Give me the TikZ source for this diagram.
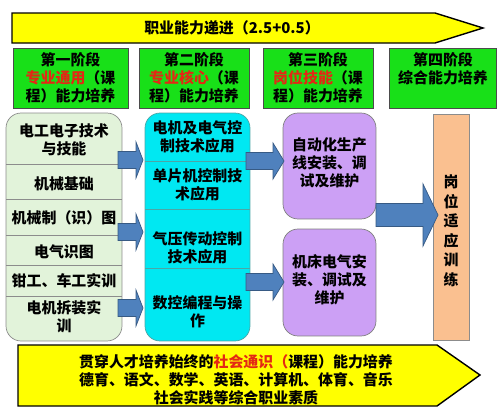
\documentclass[tikz,border=0pt]{standalone}
\usepackage{fontspec}
\setmainfont{Noto Sans CJK SC}
\usetikzlibrary{positioning}

\definecolor{bandyellow}{RGB}{255,255,0}
\definecolor{stagegreen}{RGB}{24,224,24}
\definecolor{basegreen}{RGB}{226,243,218}
\definecolor{corecyan}{RGB}{0,232,242}
\definecolor{jobpurple}{RGB}{204,160,245}
\definecolor{trainorange}{RGB}{250,192,144}
\definecolor{arrowblue}{RGB}{79,129,189}
\definecolor{hotred}{RGB}{228,40,20}

\newcommand{\hot}[1]{\textcolor{hotred}{#1}}
% block arrow: start x, head x, tip x, centre y, shaft half, head half
\newcommand{\barrow}[6]{\draw[blockarrow] (#1,#4-#5) -- (#2,#4-#5) -- (#2,#4-#6) -- (#3,#4) -- (#2,#4+#6) -- (#2,#4+#5) -- (#1,#4+#5) -- cycle;}

\begin{document}
\begin{tikzpicture}[x=0.02cm, y=-0.02cm,
    font=\fontsize{8.5}{10.2}\selectfont\bfseries,
    stage/.style={draw=black!70, fill=stagegreen, minimum height=1.2cm, inner sep=0pt, align=center},
    column/.style={rounded corners=0.3cm, minimum height=4.56cm, inner sep=0pt},
    item/.style={align=center, inner sep=0pt},
    band/.style={draw=black, line width=0.8pt, fill=bandyellow},
    blockarrow/.style={draw=arrowblue!70!black, fill=arrowblue, line width=0.4pt}]
  \useasboundingbox (0,0) rectangle (500,409);

  % top band
  \draw[band] (12,13) -- (435,13) -- (483,28) -- (435,43) -- (12,43) -- cycle;
  \node (title) at (232,28) {职业能力递进（2.5+0.5）};

  % stages
  \node[stage, minimum width=2.3cm]  (s1) at (70.5,78) {第一阶段\\\hot{专业通用}（课\\程）能力培养};
  \node[stage, minimum width=2.2cm]  (s2) at (194,78)  {第二阶段\\\hot{专业核心}（课\\程）能力培养};
  \node[stage, minimum width=2.2cm]  (s3) at (318,78)  {第三阶段\\\hot{岗位技能}（课\\程）能力培养};
  \node[stage, minimum width=2.14cm] (s4) at (443,78)  {第四阶段\\综合能力培养\\\phantom{程}};

  % columns
  \node[column, minimum width=2.32cm, draw=black!45, fill=basegreen] (base) at (64,227) {};
  \foreach \y in {164,199,235,265,296}
    \draw[black!45] (6,\y) -- (122,\y);
  \node[column, minimum width=2.1cm, draw=teal!70, fill=corecyan] (core) at (197.5,227) {};
  \foreach \y in {161,209,268}
    \draw[teal!70] (145,\y) -- (250,\y);
  \node[column, minimum width=1.86cm, minimum height=2.12cm, draw=black!50, fill=jobpurple] (job1) at (329.5,166) {};
  \node[column, minimum width=1.86cm, minimum height=2.14cm, draw=black!50, fill=jobpurple] (job2) at (329.5,282.5) {};
  \node[draw=black!45, fill=trainorange, minimum width=0.72cm, minimum height=4.52cm, inner sep=0pt] (train) at (451,227) {};

  % column texts
  \node[item] (b1) at (64,140) {电工电子技术\\与技能};
  \node[item] (b2) at (64,184) {机械基础};
  \node[item] (b3) at (64,218) {机械制（识）图};
  \node[item] (b4) at (64,252) {电气识图};
  \node[item] (b5) at (64,281) {钳工、车工实训};
  \node[item] (b6) at (64,317) {电机拆装实\\训};

  \node[item] (c1) at (197.5,137) {电机及电气控\\制技术应用};
  \node[item] (c2) at (197.5,185) {单片机控制技\\术应用};
  \node[item] (c3) at (197.5,248) {气压传动控制\\技术应用};
  \node[item] (c4) at (197.5,312) {数控编程与操\\作};

  \node[item] (j1) at (329.5,163) {自动化生产\\线安装、调\\试及维护};
  \node[item] (j2) at (329.5,280) {机床电气安\\装、调试及\\维护};
  \node[item, font=\fontsize{8.5}{11.1}\selectfont\bfseries] (t1) at (451,231) {岗\\位\\适\\应\\训\\练};

  % block arrows
  \barrow{118}{136}{143}{160}{8.5}{18}
  \barrow{118}{136}{143}{232}{8.5}{18}
  \barrow{118}{136}{143}{308}{8.5}{18}
  \barrow{246}{273}{284}{161}{8.5}{18}
  \barrow{246}{273}{284}{282}{8.5}{18}
  \barrow{376}{423}{438}{215}{11.5}{31}

  % bottom band
  \draw[band] (18,345) -- (437,345) -- (480,375) -- (437,406) -- (18,406) -- cycle;
  \node[item, font=\fontsize{8.5}{10.3}\selectfont\bfseries] (common) at (236,380)
    {贯穿人才培养始终的\hot{社会通识（}课程）能力培养\\德育、语文、数学、英语、计算机、体育、音乐\\社会实践等综合职业素质};
\end{tikzpicture}
\end{document}
